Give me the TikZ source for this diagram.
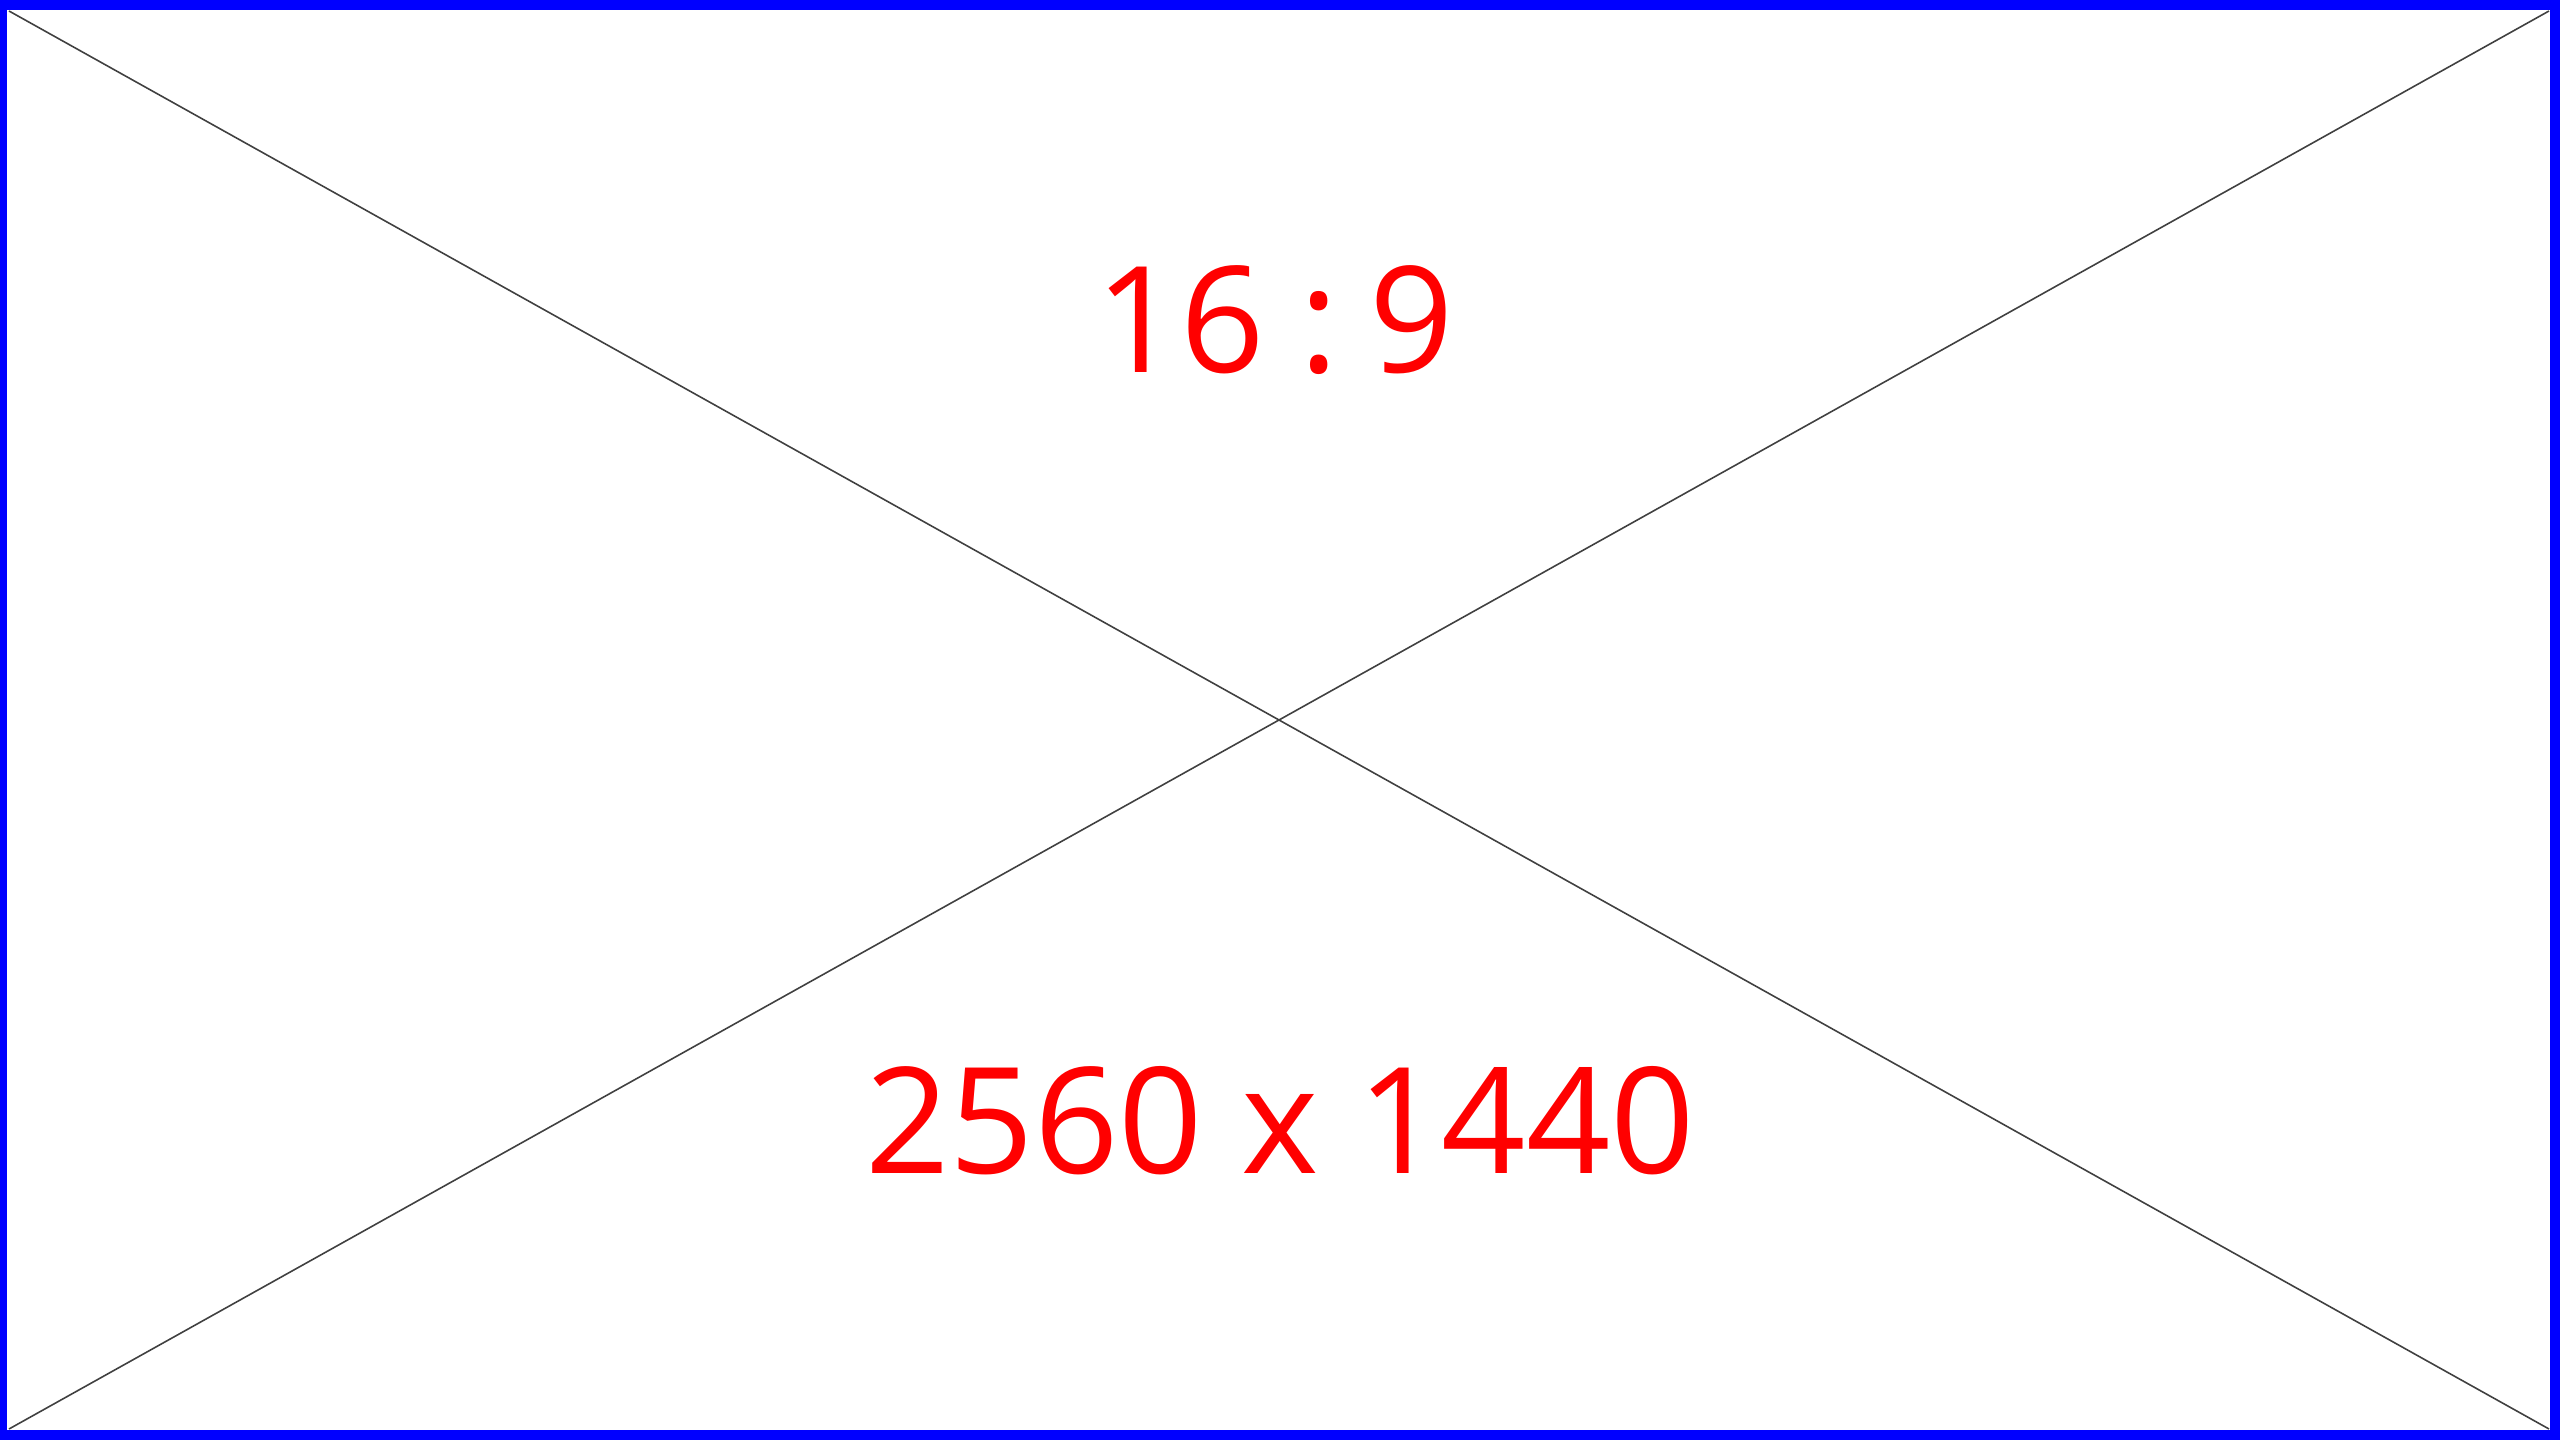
\documentclass[tikz,border=0pt]{standalone}
\usepackage{fontspec}
\setmainfont{Open Sans}
\begin{document}
\begin{tikzpicture}[x=0.01cm,y=-0.01cm,
  label/.style={text=red,inner sep=0pt,font=\fontsize{42}{48}\selectfont},
  diag/.style={draw=black!75,line width=0.45pt}]
\useasboundingbox (0,0) rectangle (2560,1440);
\fill[blue] (0,0) rectangle (2560,1440);
\fill[white] (7,10) rectangle (2550,1430);
\coordinate (tl) at (9,11);
\coordinate (tr) at (2549,11);
\coordinate (bl) at (9,1429);
\coordinate (br) at (2549,1429);
\draw[diag] (tl) -- (br);
\draw[diag] (tr) -- (bl);
\node[label] (ratio) at (1275,320) {16\hspace{10pt}:\hspace{8.7pt}9};
\node[label] (size) at (1280,1121) {2560 x 1440};
\end{tikzpicture}
\end{document}
